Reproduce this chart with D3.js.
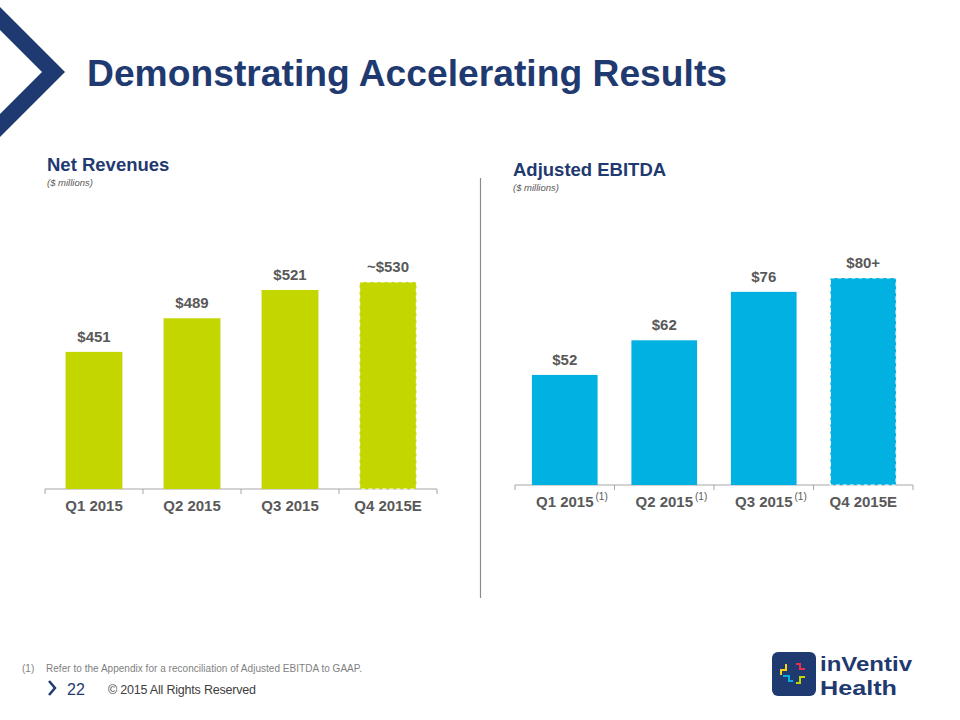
<!DOCTYPE html>
<html><head><meta charset="utf-8">
<script src="https://cdn.jsdelivr.net/npm/d3@7"></script>
<style>body{margin:0;background:#fff}svg{display:block;font-family:Arial,"Liberation Sans",sans-serif}</style>
</head><body><svg id="c" width="960" height="720"></svg>
<script>
const revCategories = ["Q1 2015","Q2 2015","Q3 2015","Q4 2015E"];
const revValues = [451, 489, 521, 530];
const revLabels = ["$451","$489","$521","~$530"];
const ebitdaCategories = ["Q1 2015","Q2 2015","Q3 2015","Q4 2015E"];
const ebitdaValues = [52, 62, 76, 80];
const ebitdaLabels = ["$52","$62","$76","$80+"];
const ebitdaNotes = ["(1)","(1)","(1)",""];
const estimated = [false,false,false,true];

const svg = d3.select("#c");
const navy = "#1F3A70", gray = "#595959";

// chevron
svg.append("polygon").attr("points","0,7 65,72 0,137 0,114 42,72 0,30").attr("fill",navy);
svg.append("text").attr("x",87).attr("y",86).attr("fill",navy).attr("font-size",37).attr("font-weight","bold")
  .attr("textLength",640).attr("lengthAdjust","spacingAndGlyphs")
  .text("Demonstrating Accelerating Results");

function panel(o){
  const g = svg.append("g");
  g.append("text").attr("x",o.tx).attr("y",o.ty).attr("fill",navy).attr("font-size",18.5).attr("font-weight","bold").text(o.title);
  g.append("text").attr("x",o.tx).attr("y",o.ty+15).attr("fill",gray).attr("font-size",9.5).attr("font-style","italic").text("($ millions)");
  const x = d3.scaleBand().domain(o.cats).range([o.x0,o.x1]).paddingInner(o.pad).paddingOuter(o.pad/2);
  const y = d3.scaleLinear().domain(o.ydom).range([o.base,o.top]);
  const ax = g.append("g").attr("transform",`translate(0,${o.base})`)
    .call(d3.axisBottom(x).tickSize(0).tickFormat(""));
  ax.select(".domain").attr("stroke","#A6A6A6").attr("stroke-width",1).attr("d",`M${o.x0},0H${o.x1}`);
  const ticks = d3.range(o.cats.length+1).map(i=>o.x0+i*((o.x1-o.x0)/o.cats.length));
  g.selectAll(".tk").data(ticks).join("line").attr("x1",d=>d).attr("x2",d=>d)
    .attr("y1",o.base).attr("y2",o.base+5).attr("stroke","#A6A6A6");
  g.selectAll(".bar").data(o.vals).join("rect")
    .attr("x",(d,i)=>x(o.cats[i])).attr("width",x.bandwidth())
    .attr("y",d=>y(d)).attr("height",d=>o.base-y(d)).attr("fill",o.color)
    .attr("stroke",(d,i)=>estimated[i]?"#fff":"none").attr("stroke-width",1.2)
    .attr("stroke-dasharray","4,3");
  g.selectAll(".vl").data(o.vals).join("text")
    .attr("x",(d,i)=>x(o.cats[i])+x.bandwidth()/2).attr("y",d=>y(d)-10)
    .attr("text-anchor","middle").attr("fill",gray).attr("font-size",15).attr("font-weight","bold")
    .text((d,i)=>o.labels[i]);
  const cl = g.selectAll(".cl").data(o.cats).join("text")
    .attr("x",(d)=>x(d)+x.bandwidth()/2).attr("y",o.base+22)
    .attr("text-anchor","middle").attr("fill",gray).attr("font-size",15).attr("font-weight","bold")
    .text(d=>d);
  if(o.notes){
    cl.each(function(d,i){
      if(!o.notes[i]) return;
      const bb = this.getBBox();
      g.append("text").attr("x",bb.x+bb.width+2).attr("y",o.base+15).attr("fill",gray).attr("font-size",10).text(o.notes[i]);
    });
  }
}
panel({title:"Net Revenues",tx:47,ty:171,cats:revCategories,vals:revValues,labels:revLabels,
  x0:45,x1:437,pad:0.42,ydom:[296,530],base:489,top:282,color:"#C4D600"});
panel({title:"Adjusted EBITDA",tx:513,ty:176,cats:ebitdaCategories,vals:ebitdaValues,labels:ebitdaLabels,notes:ebitdaNotes,
  x0:515,x1:913,pad:0.34,ydom:[20.2,80],base:485,top:278,color:"#00B1E1"});

// separator
svg.append("line").attr("x1",480.5).attr("x2",480.5).attr("y1",178).attr("y2",598).attr("stroke","#8C8C8C").attr("stroke-width",1.2);

// footnote
svg.append("text").attr("x",22).attr("y",672).attr("fill","#7F7F7F").attr("font-size",10).text("(1)");
svg.append("text").attr("x",46).attr("y",672).attr("fill","#7F7F7F").attr("font-size",10)
  .attr("textLength",316).attr("lengthAdjust","spacing").text("Refer to the Appendix for a reconciliation of Adjusted EBITDA to GAAP.");
svg.append("path").attr("d","M49,681 L55,688 L49,695").attr("fill","none").attr("stroke",navy).attr("stroke-width",2.5);
svg.append("text").attr("x",67).attr("y",695).attr("fill",navy).attr("font-size",16).text("22");
svg.append("text").attr("x",108).attr("y",694).attr("fill","#404040").attr("font-size",12.5)
  .attr("textLength",148).attr("lengthAdjust","spacing").text("© 2015 All Rights Reserved");

// logo
const lg = svg.append("g");
lg.append("rect").attr("x",772).attr("y",652).attr("width",44).attr("height",44).attr("rx",6).attr("fill",navy);
const marks=[["#F7D117","M786,664 v6 h-5 v5"],["#E8304A","M796,664 h4 v5 h5"],["#00B1E1","M783,676 h6 v5 h4"],["#C4D600","M805,677 h-5 v6 h-4"]];
lg.selectAll("path").data(marks).join("path").attr("d",d=>d[1]).attr("fill","none").attr("stroke",d=>d[0]).attr("stroke-width",2);
lg.append("text").attr("x",820).attr("y",671).attr("fill",navy).attr("font-size",21).attr("font-weight","bold")
  .attr("textLength",92).attr("lengthAdjust","spacingAndGlyphs").text("inVentiv");
lg.append("text").attr("x",820).attr("y",695).attr("fill",navy).attr("font-size",21).attr("font-weight","bold")
  .attr("textLength",77).attr("lengthAdjust","spacingAndGlyphs").text("Health");
</script></body></html>
